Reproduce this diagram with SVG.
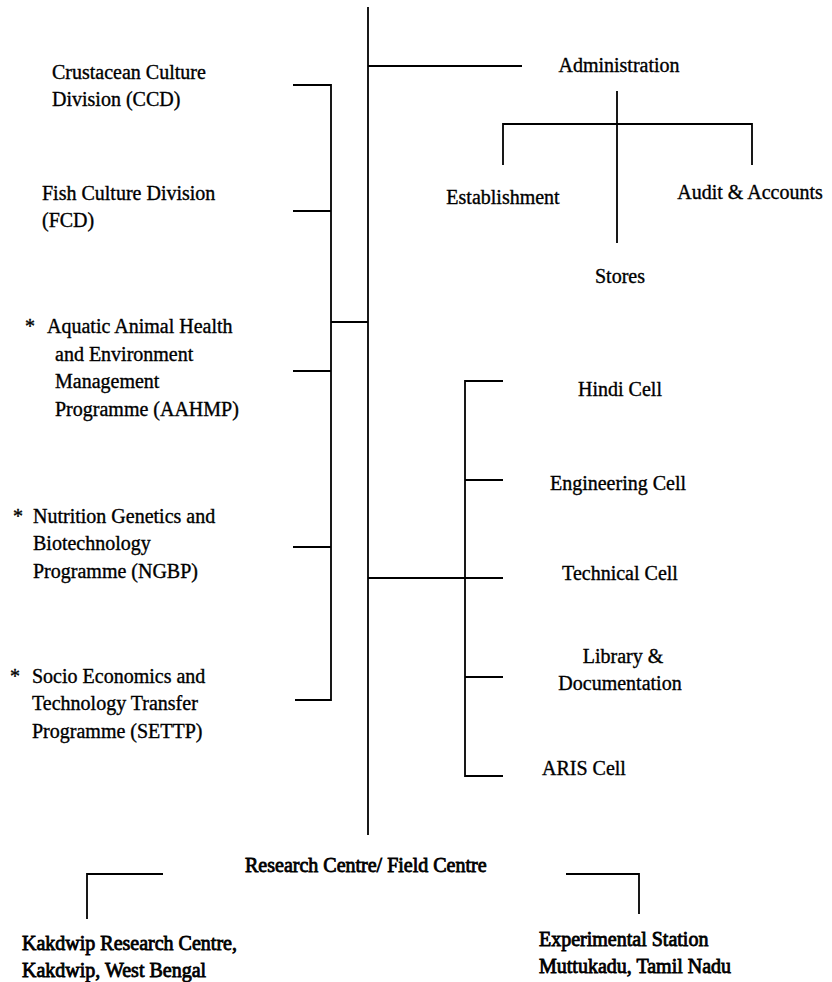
<svg xmlns="http://www.w3.org/2000/svg" width="832" height="982" viewBox="0 0 832 982">
<style>
text{font-family:"Liberation Serif","Times New Roman",serif;font-size:20px;fill:#000;stroke:#000;stroke-width:0.35}
.c{text-anchor:middle}
.b{stroke-width:0.8}
.ln{fill:none;stroke:#000;stroke-width:1.8}
</style>
<rect width="832" height="982" fill="#fff"/>
<g id="connectors" class="ln">
<path d="M368 7V835"/>
<path d="M368 66H522"/>
<path d="M617 91V243M503 165V124H752V165"/>
<path d="M293 85H331V700H295M293 211H331M293 371H331M293 547H331M331 322H368"/>
<path d="M368 578H503M503 381H465V776H503M465 480H503M465 677H503"/>
<path d="M163 874H87V919M566 874H639V914"/>
</g>
<g id="administration"><text class="c" x="619" y="72">Administration</text></g>
<g id="establishment"><text class="c" x="503" y="204">Establishment</text></g>
<g id="audit"><text class="c" x="750" y="199">Audit &amp; Accounts</text></g>
<g id="stores"><text class="c" x="620" y="283">Stores</text></g>
<g id="ccd"><text x="52" y="79">Crustacean Culture</text><text x="52" y="106">Division (CCD)</text></g>
<g id="fcd"><text x="42" y="200">Fish Culture Division</text><text x="42" y="227">(FCD)</text></g>
<g id="aahmp"><text x="25" y="333">*</text><text x="47" y="333">Aquatic Animal Health</text><text x="55" y="361">and Environment</text><text x="55" y="388">Management</text><text x="55" y="416">Programme (AAHMP)</text></g>
<g id="ngbp"><text x="13" y="523">*</text><text x="33" y="523">Nutrition Genetics and</text><text x="33" y="550">Biotechnology</text><text x="33" y="578">Programme (NGBP)</text></g>
<g id="settp"><text x="10" y="683">*</text><text x="32" y="683">Socio Economics and</text><text x="32" y="710">Technology Transfer</text><text x="32" y="738">Programme (SETTP)</text></g>
<g id="hindi"><text class="c" x="620" y="396">Hindi Cell</text></g>
<g id="engineering"><text class="c" x="618" y="490">Engineering Cell</text></g>
<g id="technical"><text class="c" x="620" y="580">Technical Cell</text></g>
<g id="library"><text class="c" x="623" y="663">Library &amp;</text><text class="c" x="620" y="690">Documentation</text></g>
<g id="aris"><text x="542" y="775">ARIS Cell</text></g>
<g id="research"><text class="b" x="245" y="872">Research Centre/ Field Centre</text></g>
<g id="kakdwip"><text class="b" x="22" y="950">Kakdwip Research Centre,</text><text class="b" x="22" y="977">Kakdwip, West Bengal</text></g>
<g id="muttukadu"><text class="b" x="539" y="946">Experimental Station</text><text class="b" x="539" y="973">Muttukadu, Tamil Nadu</text></g>
</svg>
